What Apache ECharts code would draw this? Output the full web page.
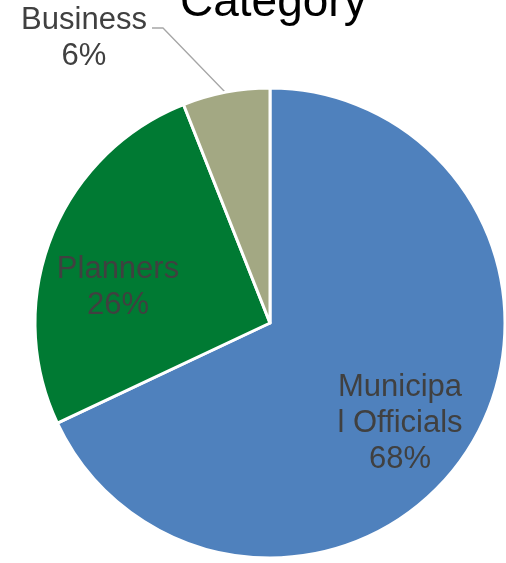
<!DOCTYPE html>
<html>
<head>
<meta charset="utf-8">
<script src="https://cdn.jsdelivr.net/npm/echarts@6/dist/echarts.min.js"></script>
<style>
  html, body { margin: 0; padding: 0; background: #fff; }
  #chart { width: 506px; height: 563px; }
</style>
</head>
<body>
<div id="chart"></div>
<script>
// Share of respondents by category
const categories = ['Municipal Officials', 'Planners', 'Business'];
const shares = [68, 26, 6];
const labelLines = [['Municipa', 'l Officials'], ['Planners'], ['Business']];
const sliceColors = ['#4F81BD', '#007A33', '#A3A883'];

const chart = echarts.init(document.getElementById('chart'));

// Business sits outside with a leader line; the others are inside their slices
const data = categories.map((name, i) => ({
  name: name,
  value: shares[i],
  itemStyle: { color: sliceColors[i] },
  label: { position: i === 2 ? 'outside' : 'inside' },
  labelLine: { show: i === 2 }
}));

// Hand-placed label anchors (centre of each text block)
const labelSpots = [
  { x: 400, y: 423 },
  { x: 118, y: 287 },
  { x: 84, y: 38 }
];

chart.setOption({
  animation: false,
  title: {
    text: 'Category',
    left: 175,
    top: -25,
    textStyle: {
      fontFamily: 'Liberation Sans, Arial, sans-serif',
      fontSize: 46,
      fontWeight: 'normal',
      color: '#000000'
    }
  },
  series: [{
    type: 'pie',
    center: [270, 323],
    radius: [0, 235],
    startAngle: 90,
    clockwise: true,
    data: data,
    itemStyle: { borderColor: '#ffffff', borderWidth: 3 },
    label: {
      show: true,
      formatter: p => labelLines[p.dataIndex].join('\n') + '\n' + p.value + '%',
      fontFamily: 'Liberation Sans, Arial, sans-serif',
      fontSize: 31,
      lineHeight: 36,
      color: '#404040',
      align: 'center'
    },
    labelLine: {
      lineStyle: { color: '#A6A6A6', width: 1.3 }
    },
    labelLayout: function (params) {
      const i = params.dataIndex;
      const spot = labelSpots[i];
      const out = { x: spot.x, y: spot.y, align: 'center', verticalAlign: 'middle' };
      if (i === 2) {
        out.labelLinePoints = [[225, 92], [163, 28], [152, 28]];
      }
      return out;
    }
  }]
});
</script>
</body>
</html>
